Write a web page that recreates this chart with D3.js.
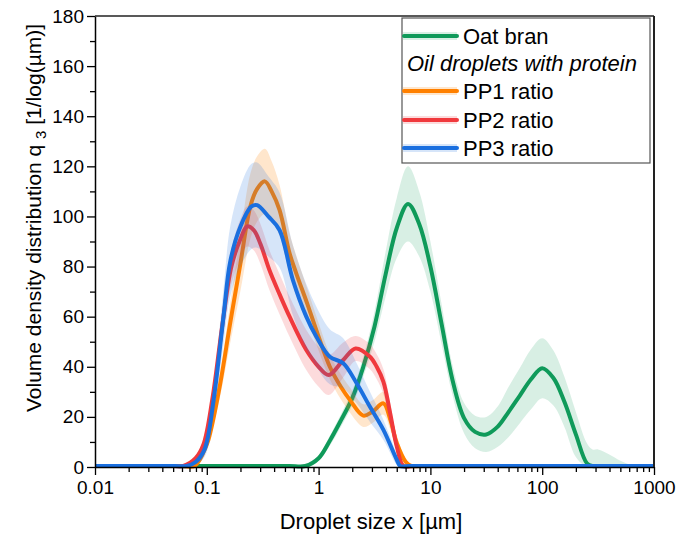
<!DOCTYPE html>
<html>
<head>
<meta charset="utf-8">
<script src="https://cdn.jsdelivr.net/npm/d3@7"></script>
<style>
  body { margin: 0; background: #fff; }
  #chart { width: 691px; height: 538px; }
  text { font-family: "Liberation Sans", Arial, sans-serif; fill: #000; }
</style>
</head>
<body>
<div id="chart"></div>
<script>
// droplet size (µm), mean q3 and standard deviation
const oatSize = [0.01, 0.3, 0.55, 0.76, 1, 1.26, 1.58, 2.0, 2.51, 3.16, 3.98, 5.01, 6.31, 7.94, 10, 12.6, 15.8, 20, 25.1, 31.6, 39.8, 50.1, 63.1, 79.4, 100, 126, 158, 200, 251, 282, 316, 398, 501, 708, 1000];
const oatMean = [0, 0, 0, 0, 3.5, 10.5, 18.5, 27.5, 40, 56, 77, 95.5, 105, 97, 80, 57, 34.5, 19.5, 14, 13, 16, 22, 28.5, 35, 39.4, 35.5, 26, 13, 1.5, 0, 0, 0, 0, 0, 0];
const oatSd   = [0, 0, 0, 0, 1, 2, 2.5, 3, 4, 6, 9, 12, 15, 13, 10, 8, 6, 6, 6.5, 7, 8, 10, 11, 12, 12, 11, 10, 9, 8, 7, 7, 5, 2.5, 0, 0];

const pp1Size = [0.01, 0.04, 0.06, 0.078, 0.1, 0.107, 0.132, 0.162, 0.2, 0.245, 0.282, 0.331, 0.38, 0.447, 0.55, 0.631, 0.794, 1.0, 1.26, 1.58, 1.91, 2.51, 3.02, 3.8, 4.37, 5.01, 6.03, 6.76, 8, 12, 100, 1000];
const pp1Mean = [0, 0, 0, 0, 9, 13.4, 33.4, 57.5, 81.3, 104, 111, 114, 110, 102.6, 85.3, 77.3, 65, 52, 40, 32, 26.7, 20.5, 22, 25.4, 19, 9.5, 2, 0, 0, 0, 0, 0];
const pp1Sd   = [0, 0, 0, 0, 1.5, 2, 5, 8, 11, 13, 13, 13, 12, 10, 8, 7, 6, 5.5, 5, 5, 5, 4.5, 4.5, 4.5, 4, 3, 1, 0, 0, 0, 0, 0];

const pp2Size = [0.01, 0.03, 0.05, 0.0617, 0.0794, 0.0933, 0.112, 0.138, 0.166, 0.2, 0.229, 0.263, 0.302, 0.363, 0.447, 0.55, 0.776, 1.0, 1.23, 1.66, 2.14, 2.88, 3.31, 3.8, 4.37, 5.01, 5.75, 7, 10, 100, 1000];
const pp2Mean = [0, 0, 0, 0, 3.5, 9, 27, 57, 80, 91, 96, 94.5, 89, 78.6, 69, 60, 46.7, 40, 36.7, 42.7, 47.3, 44, 40, 34, 21.4, 8.1, 0, 0, 0, 0, 0];
const pp2Sd   = [0, 0, 0, 0, 1, 2, 4, 6, 7, 8, 8, 8, 8, 8, 8, 8, 8, 8, 8, 7, 5, 5, 5, 5, 4, 2, 0, 0, 0, 0, 0];

const pp3Size = [0.01, 0.03, 0.052, 0.066, 0.0794, 0.0955, 0.115, 0.141, 0.162, 0.2, 0.251, 0.282, 0.355, 0.447, 0.589, 0.776, 0.955, 1.26, 1.66, 2.19, 2.88, 3.8, 5.01, 5.37, 6.5, 9, 100, 1000];
const pp3Mean = [0, 0, 0, 0, 2, 7, 26.7, 60, 82, 96, 104, 104.5, 100, 94.6, 74.6, 60, 52, 44, 41.4, 33.4, 24, 14.8, 2.8, 0, 0, 0, 0, 0];
const pp3Sd   = [0, 0, 0, 0, 1, 3, 6, 11, 14, 16, 17, 17, 16, 15, 14, 13, 12, 11, 10, 8, 6, 4, 2, 0, 0, 0, 0, 0];

const xTickValues = [0.01, 0.1, 1, 10, 100, 1000];
const xTickLabels = ['0.01', '0.1', '1', '10', '100', '1000'];
const yTickValues = [0, 20, 40, 60, 80, 100, 120, 140, 160, 180];

const series = [
  { name: 'Oat bran', size: oatSize, mean: oatMean, sd: oatSd, color: '#0f9a5a', band: 0.16 },
  { name: 'PP1 ratio', size: pp1Size, mean: pp1Mean, sd: pp1Sd, color: '#ff8000', band: 0.2 },
  { name: 'PP2 ratio', size: pp2Size, mean: pp2Mean, sd: pp2Sd, color: '#f0393d', band: 0.18 },
  { name: 'PP3 ratio', size: pp3Size, mean: pp3Mean, sd: pp3Sd, color: '#1a6fdf', band: 0.18 }
];

const margin = { top: 16, right: 37, bottom: 71, left: 95 };
const width = 691 - margin.left - margin.right;
const height = 538 - margin.top - margin.bottom;

const root = d3.select('#chart')
  .append('svg')
  .attr('width', 691)
  .attr('height', 538);

const svg = root.append('g')
  .attr('transform', `translate(${margin.left},${margin.top})`);

// keep the smoothed curves from dipping under the x axis
svg.append('defs').append('clipPath')
  .attr('id', 'plot-clip')
  .append('rect')
  .attr('x', 0).attr('y', -20)
  .attr('width', width).attr('height', height + 22);

const x = d3.scaleLog().domain([0.01, 1000]).range([0, width]);
const y = d3.scaleLinear().domain([0, 180]).range([height, 0]);

const smooth = d3.curveCatmullRom.alpha(0.5);
const plot = svg.append('g').attr('clip-path', 'url(#plot-clip)');

// bands and lines, one series after the other
series.forEach(s => {
  const pts = s.size.map((v, i) => ({ x: v, m: s.mean[i], sd: s.sd[i] }));

  plot.append('path')
    .datum(pts)
    .attr('fill', s.color)
    .attr('fill-opacity', s.band)
    .attr('d', d3.area()
      .curve(smooth)
      .x(d => x(d.x))
      .y0(d => y(Math.max(0, d.m - d.sd)))
      .y1(d => y(d.m + d.sd)));

  plot.append('path')
    .datum(pts)
    .attr('fill', 'none')
    .attr('stroke', s.color)
    .attr('stroke-width', 4)
    .attr('stroke-linejoin', 'round')
    .attr('d', d3.line()
      .curve(smooth)
      .x(d => x(d.x))
      .y(d => Math.min(y(d.m), height - 1)));
});

// minor ticks
const xMinor = [];
for (let e = -2; e < 3; e++) {
  for (let k = 2; k <= 9; k++) xMinor.push(k * Math.pow(10, e));
}
const yMinor = d3.range(10, 180, 20);

svg.append('g')
  .attr('transform', `translate(0,${height})`)
  .call(d3.axisBottom(x).tickValues(xMinor).tickSize(5).tickFormat(''))
  .call(g => g.select('.domain').remove())
  .selectAll('line').attr('stroke-width', 1.3);

svg.append('g')
  .call(d3.axisLeft(y).tickValues(yMinor).tickSize(5).tickFormat(''))
  .call(g => g.select('.domain').remove())
  .selectAll('line').attr('stroke-width', 1.3);

// x axis
const xAxis = svg.append('g')
  .attr('transform', `translate(0,${height})`)
  .call(d3.axisBottom(x)
    .tickValues(xTickValues)
    .tickFormat((d, i) => xTickLabels[i])
    .tickSize(8)
    .tickSizeOuter(0)
    .tickPadding(6));
xAxis.select('.domain').attr('stroke-width', 1.5);
xAxis.selectAll('.tick line').attr('stroke-width', 1.3);
xAxis.selectAll('text')
  .attr('font-family', '"Liberation Sans", Arial, sans-serif')
  .attr('font-size', '19px')
  .attr('fill', '#000');

// y axis
const yAxis = svg.append('g')
  .call(d3.axisLeft(y)
    .tickValues(yTickValues)
    .tickSize(8)
    .tickSizeOuter(0)
    .tickPadding(3));
yAxis.select('.domain').attr('stroke-width', 1.5);
yAxis.selectAll('.tick line').attr('stroke-width', 1.3);
yAxis.selectAll('text')
  .attr('font-family', '"Liberation Sans", Arial, sans-serif')
  .attr('font-size', '19px')
  .attr('fill', '#000');

// frame top and right
svg.append('line')
  .attr('x1', 0).attr('x2', width)
  .attr('y1', 0).attr('y2', 0)
  .attr('stroke', '#222').attr('stroke-width', 1.5);
svg.append('line')
  .attr('x1', width).attr('x2', width)
  .attr('y1', 0).attr('y2', height)
  .attr('stroke', '#222').attr('stroke-width', 2);

// axis titles
svg.append('text')
  .attr('x', 371 - margin.left)
  .attr('y', 529 - margin.top)
  .attr('text-anchor', 'middle')
  .attr('font-size', '22px')
  .text('Droplet size x [µm]');

const yTitle = svg.append('text')
  .attr('transform', `translate(${41 - margin.left},${218 - margin.top}) rotate(-90)`)
  .attr('text-anchor', 'middle')
  .attr('font-size', '21px');
yTitle.append('tspan').text('Volume density distribution q ');
yTitle.append('tspan').attr('font-size', '15px').attr('dy', 5).text('3');
yTitle.append('tspan').attr('dy', -5).text(' [1/log(µm)]');

// legend
const lg = svg.append('g').attr('transform', `translate(${402 - margin.left},${18 - margin.top})`);
lg.append('rect')
  .attr('width', 248).attr('height', 145)
  .attr('fill', '#fff')
  .attr('stroke', '#555').attr('stroke-width', 1.2);

const legendRows = [
  { label: 'Oat bran', s: series[0], cy: 18 },
  { label: 'Oil droplets with protein', s: null, cy: 45 },
  { label: 'PP1 ratio', s: series[1], cy: 73 },
  { label: 'PP2 ratio', s: series[2], cy: 102 },
  { label: 'PP3 ratio', s: series[3], cy: 130 }
];

legendRows.forEach(r => {
  if (r.s) {
    lg.append('rect')
      .attr('x', 1).attr('y', r.cy - 4)
      .attr('width', 54).attr('height', 8)
      .attr('fill', r.s.color).attr('fill-opacity', r.s.band);
    lg.append('line')
      .attr('x1', 2).attr('x2', 55)
      .attr('y1', r.cy).attr('y2', r.cy)
      .attr('stroke', r.s.color).attr('stroke-width', 4)
      .attr('stroke-linecap', 'round');
    lg.append('text')
      .attr('x', 61).attr('y', r.cy)
      .attr('dy', '0.36em')
      .attr('font-size', '22px')
      .text(r.label);
  } else {
    lg.append('text')
      .attr('x', 5).attr('y', r.cy)
      .attr('dy', '0.36em')
      .attr('font-size', '22px')
      .attr('font-style', 'italic')
      .text(r.label);
  }
});
</script>
</body>
</html>
